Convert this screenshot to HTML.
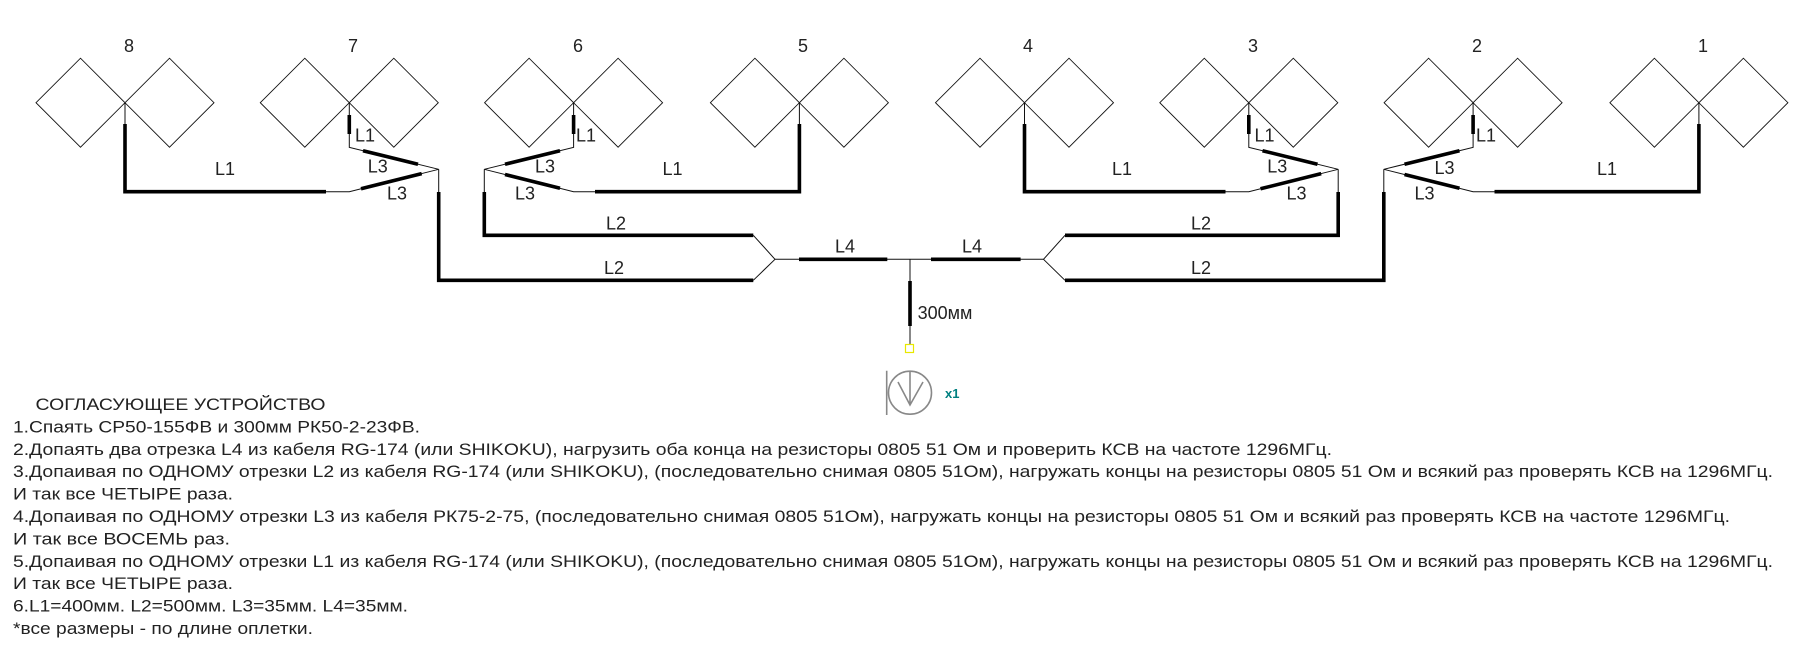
<!DOCTYPE html>
<html><head><meta charset="utf-8"><style>
html,body{margin:0;padding:0;background:#fff;}
svg{display:block;}
text{font-family:"Liberation Sans","Noto Sans CJK SC",sans-serif;fill:#222;}
</style></head><body>
<svg width="1794" height="664" viewBox="0 0 1794 664" xmlns="http://www.w3.org/2000/svg">
<defs>
<path id="ant" d="M-89,102.7 L-44.5,58.2 L0,102.7 L44.5,58.2 L89,102.7 L44.5,147.2 L0,102.7 L-44.5,147.2 Z" fill="none" stroke="#111" stroke-width="0.9"/>
</defs>
<!-- antennas -->
<use href="#ant" x="125"/>
<use href="#ant" x="349.3"/>
<use href="#ant" x="573.6"/>
<use href="#ant" x="799.4"/>
<use href="#ant" x="1024.5"/>
<use href="#ant" x="1248.8"/>
<use href="#ant" x="1473.1"/>
<use href="#ant" x="1698.9"/>

<g font-size="18" text-anchor="middle">
<text x="129" y="52">8</text>
<text x="353" y="52">7</text>
<text x="578" y="52">6</text>
<text x="803" y="52">5</text>
<text x="1028" y="52">4</text>
<text x="1253" y="52">3</text>
<text x="1477" y="52">2</text>
<text x="1703" y="52">1</text>
</g>

<!-- thin lines -->
<g stroke="#111" stroke-width="1" fill="none">
<!-- Group A -->
<path d="M125,102.7 V124 M326,191.7 H349.3 L438.7,169.3 L349.3,147.3 V102.7 M438.7,169.3 V192 M753.3,280.3 L775,259.3"/>
<!-- Group B -->
<path d="M799.4,102.7 V124 M595,191.7 H573.6 L484.3,169.3 L573.6,147.3 V102.7 M484.3,169.3 V192 M753.3,235.3 L775,259.3"/>
<!-- Group C -->
<path d="M1024.5,102.7 V124 M1225.5,191.7 H1248.8 L1338.2,169.3 L1248.8,147.3 V102.7 M1338.2,169.3 V192 M1065,235.3 L1043.5,259.3"/>
<!-- Group D -->
<path d="M1698.9,102.7 V124 M1494.5,191.7 H1473.1 L1383.8,169.3 L1473.1,147.3 V102.7 M1383.8,169.3 V192 M1065,280.3 L1043.5,259.3"/>
<!-- center -->
<path d="M775,259.3 H1043.5 M910,259.3 V344"/>
</g>

<!-- thick lines -->
<g stroke="#000" stroke-width="3.6" fill="none" stroke-linecap="butt">
<!-- Group A -->
<path d="M125,124 V191.7 H326"/>
<path d="M349.3,115 V134"/>
<path d="M363,150.7 L418,164.3"/>
<path d="M361,188.8 L421.7,173.6"/>
<path d="M438.7,192 V280.3 H753.3"/>
<!-- Group B -->
<path d="M799.4,124 V191.7 H595"/>
<path d="M573.6,115 V134"/>
<path d="M505,164.2 L560,150.7"/>
<path d="M505,174.5 L560,188.3"/>
<path d="M484.3,192 V235.3 H753.3"/>
<!-- Group C -->
<path d="M1024.5,124 V191.7 H1225.5"/>
<path d="M1248.8,115 V134"/>
<path d="M1262.5,150.7 L1317.5,164.3"/>
<path d="M1260.5,188.8 L1321.2,173.6"/>
<path d="M1338.2,192 V235.3 H1065"/>
<!-- Group D -->
<path d="M1698.9,124 V191.7 H1494.5"/>
<path d="M1473.1,115 V134"/>
<path d="M1404.5,164.2 L1459.5,150.7"/>
<path d="M1404.5,174.5 L1459.5,188.3"/>
<path d="M1383.8,192 V280.3 H1065"/>
<!-- center -->
<path d="M799,259.3 H887.3 M931,259.3 H1020.6 M910,281 V326"/>
</g>

<!-- connector symbol -->
<rect x="905.5" y="344.5" width="8" height="8" fill="none" stroke="#e8e800" stroke-width="1.2"/>
<g stroke="#888" stroke-width="1.6" fill="none">
<circle cx="910" cy="392.7" r="21.5"/>
<path d="M886.7,370.7 V415 M910,371 V405 M898,382 L910,405 L923,382"/>
</g>
<text x="945" y="398" font-size="13" font-weight="bold" style="fill:#008080">x1</text>

<!-- labels -->
<g font-size="18">
<text x="215" y="175">L1</text>
<text x="355" y="141.7">L1</text>
<text x="367.7" y="172.3">L3</text>
<text x="387" y="199.7">L3</text>
<text x="576" y="141.7">L1</text>
<text x="535" y="172.3">L3</text>
<text x="515" y="199.7">L3</text>
<text x="662.5" y="175">L1</text>
<text x="1112" y="175">L1</text>
<text x="1254.5" y="141.7">L1</text>
<text x="1267.2" y="172.3">L3</text>
<text x="1286.5" y="199.7">L3</text>
<text x="1476" y="141.7">L1</text>
<text x="1434.5" y="174">L3</text>
<text x="1414.5" y="199.7">L3</text>
<text x="1597" y="175">L1</text>
<text x="606" y="229.3">L2</text>
<text x="604" y="274">L2</text>
<text x="1191" y="229.3">L2</text>
<text x="1191" y="274">L2</text>
<text x="835" y="252.3">L4</text>
<text x="962" y="252.3">L4</text>
<text x="917.6" y="319">300мм</text>
</g>

<!-- notes -->
<g font-size="17" lengthAdjust="spacingAndGlyphs">
<text x="35.5" y="410" textLength="290" lengthAdjust="spacingAndGlyphs">СОГЛАСУЮЩЕЕ УСТРОЙСТВО</text>
<text x="13" y="432.4" textLength="407" lengthAdjust="spacingAndGlyphs">1.Спаять СР50-155ФВ и 300мм РК50-2-23ФВ.</text>
<text x="13" y="454.8" textLength="1319" lengthAdjust="spacingAndGlyphs">2.Допаять два отрезка L4 из кабеля RG-174 (или SHIKOKU), нагрузить оба конца на резисторы 0805 51 Ом и проверить КСВ на частоте 1296МГц.</text>
<text x="13" y="477.2" textLength="1760" lengthAdjust="spacingAndGlyphs">3.Допаивая по ОДНОМУ отрезки L2 из кабеля RG-174 (или SHIKOKU), (последовательно снимая 0805 51Ом), нагружать концы на резисторы 0805 51 Ом и всякий раз проверять КСВ на 1296МГц.</text>
<text x="13" y="499.6" textLength="220" lengthAdjust="spacingAndGlyphs">И так все ЧЕТЫРЕ раза.</text>
<text x="13" y="522" textLength="1717" lengthAdjust="spacingAndGlyphs">4.Допаивая по ОДНОМУ отрезки L3 из кабеля РК75-2-75, (последовательно снимая 0805 51Ом), нагружать концы на резисторы 0805 51 Ом и всякий раз проверять КСВ на частоте 1296МГц.</text>
<text x="13" y="544.4" textLength="217" lengthAdjust="spacingAndGlyphs">И так все ВОСЕМЬ раз.</text>
<text x="13" y="566.8" textLength="1760" lengthAdjust="spacingAndGlyphs">5.Допаивая по ОДНОМУ отрезки L1 из кабеля RG-174 (или SHIKOKU), (последовательно снимая 0805 51Ом), нагружать концы на резисторы 0805 51 Ом и всякий раз проверять КСВ на 1296МГц.</text>
<text x="13" y="589.2" textLength="220" lengthAdjust="spacingAndGlyphs">И так все ЧЕТЫРЕ раза.</text>
<text x="13" y="611.6" textLength="395" lengthAdjust="spacingAndGlyphs">6.L1=400мм. L2=500мм. L3=35мм. L4=35мм.</text>
<text x="13" y="634" textLength="300" lengthAdjust="spacingAndGlyphs">*все размеры - по длине оплетки.</text>
</g>
</svg>
</body></html>
